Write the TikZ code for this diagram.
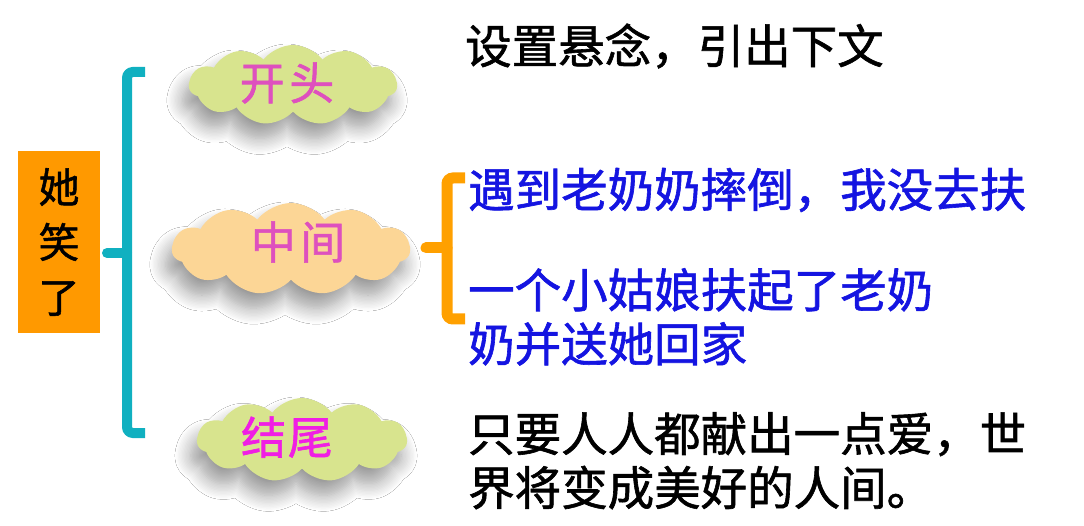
\documentclass[tikz,border=0pt]{standalone}
\usepackage{fontspec}
\setmainfont{Noto Sans CJK SC}[RawFeature={embolden=1.3}]
\usetikzlibrary{shapes.symbols,shadows.blur}
\definecolor{boxorange}{RGB}{255,153,0}
\definecolor{teal2}{RGB}{16,176,192}
\definecolor{brorange}{RGB}{255,160,0}
\definecolor{cgreen}{RGB}{216,228,142}
\definecolor{cpeach}{RGB}{252,214,150}
\definecolor{pink1}{RGB}{222,80,190}
\definecolor{pink2}{RGB}{240,30,228}
\definecolor{tblue}{RGB}{20,20,225}
\tikzset{
  cloudbox/.style={cloud, cloud puffs=11, cloud puff arc=105, aspect=2.5, inner sep=0pt,
    blur shadow={shadow xshift=-6pt, shadow yshift=-15pt, shadow blur radius=16pt, shadow blur steps=12, shadow opacity=40}},
  cloudtext/.style={font=\fontsize{45}{45}\selectfont},
  brteal/.style={draw=teal2, line width=10pt, rounded corners=6pt},
  brorg/.style={draw=brorange, line width=11pt, rounded corners=6pt},
  prong/.style={line cap=round},
  rtext/.style={anchor=west, inner sep=0pt, font=\fontsize{46.5}{54}\selectfont, align=left}
}
\begin{document}
\begin{tikzpicture}[x=1pt,y=-1pt]
\useasboundingbox (0,0) rectangle (1084,526);
\fill[white] (0,0) rectangle (1084,526);
% title box
\node[fill=boxorange, minimum width=82pt, minimum height=182pt, inner sep=0pt,
  align=center, font=\fontsize{41}{55}\selectfont] (title) at (59,242) {她\\笑\\了};
% clouds
\node[cloudbox, fill=cgreen, minimum width=208pt, minimum height=80pt] (c1) at (293,85) {};
\node[cloudbox, fill=cpeach, minimum width=238pt, minimum height=92pt] (c2) at (291,249) {};
\node[cloudbox, fill=cgreen, minimum width=210pt, minimum height=84pt] (c3) at (302,440) {};
\node[cloudtext, text=pink1] (t1) at (287,83) {开\hspace{0.1em}头};
\node[cloudtext, text=pink1] (t2) at (298,242) {中\hspace{0.1em}间};
\node[cloudtext, text=pink2] (t3) at (287,437) {结\hspace{0.04em}尾};
% teal bracket
\coordinate (tb1) at (145,72);
\coordinate (tb2) at (145,433);
\coordinate (tbm) at (127,253);
\coordinate (tbe) at (107,253);
\draw[brteal] (tb1) -- (127,72) -- (127,433) -- (tb2);
\draw[draw=teal2, line width=10pt, prong] (tbm) -- (tbe);
% orange bracket
\coordinate (ob1) at (465,178);
\coordinate (ob2) at (465,319);
\coordinate (obm) at (447,248);
\coordinate (obe) at (426,248);
\draw[brorg] (ob1) -- (447,178) -- (447,319) -- (ob2);
\draw[draw=brorange, line width=11pt, prong] (obm) -- (obe);
% texts
\node[rtext] (r1) at (465,46) {设置悬念，引出下文};
\node[rtext, text=tblue] (r2) at (468,190) {遇到老奶奶摔倒，我没去扶};
\node[rtext, text=tblue, anchor=north west] (r3) at (468,268) {一个小姑娘扶起了老奶\\奶并送她回家};
\node[rtext, anchor=north west] (r4) at (468,412) {只要人人都献出一点爱，世\\界将变成美好的人间。};
\end{tikzpicture}
\end{document}
